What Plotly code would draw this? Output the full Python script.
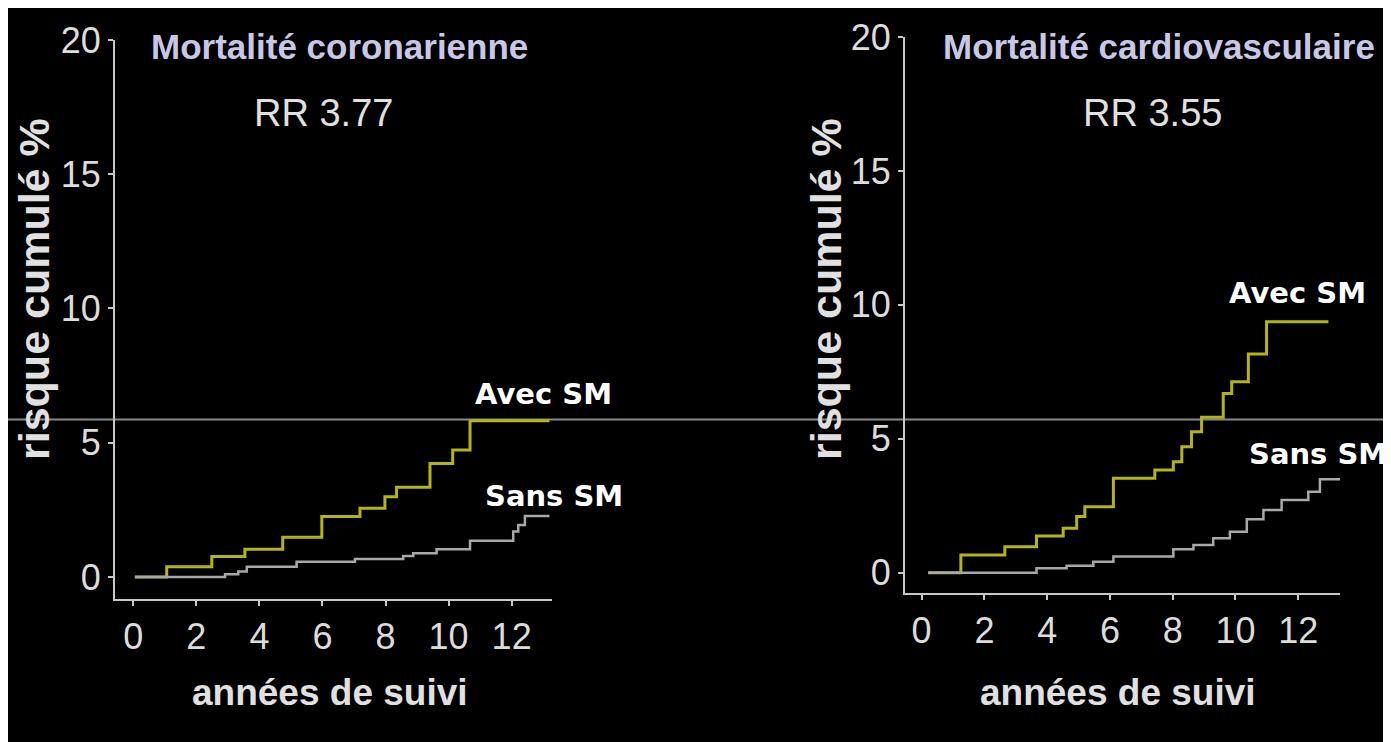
import plotly.graph_objects as go

# The page adds an 8px white body margin at top and left; the figure fills the rest.
W, H = 1383, 734
OFF = 8

# ---------------- data ----------------
# Left panel: Mortalité coronarienne
coro_avec_t = [0.05, 1.06, 2.49, 3.54, 4.74, 5.98, 7.19, 7.98, 8.35, 9.41, 10.13, 10.68, 13.2]
coro_avec_v = [0.0, 0.38, 0.76, 1.03, 1.48, 2.25, 2.56, 2.99, 3.34, 4.23, 4.73, 5.82, 5.82]
coro_sans_t = [0.05, 2.91, 3.33, 3.6, 5.18, 7.03, 8.56, 8.88, 9.62, 10.68, 12.05, 12.21, 12.42, 13.2]
coro_sans_v = [0.0, 0.1, 0.2, 0.38, 0.57, 0.67, 0.78, 0.88, 1.03, 1.35, 1.69, 1.94, 2.27, 2.27]

# Right panel: Mortalité cardiovasculaire
cv_avec_t = [0.21, 1.25, 2.65, 3.66, 4.51, 4.94, 5.2, 6.11, 7.43, 8.02, 8.29, 8.6, 8.92,
             9.61, 9.88, 10.41, 10.99, 12.96]
cv_avec_v = [0.0, 0.66, 0.97, 1.37, 1.66, 2.1, 2.46, 3.52, 3.83, 4.14, 4.7, 5.26, 5.8,
             6.69, 7.13, 8.16, 9.37, 9.37]
cv_sans_t = [0.21, 3.13, 3.66, 4.62, 5.47, 6.11, 8.02, 8.66, 9.29, 9.82, 10.36, 10.89,
             11.47, 12.32, 12.69, 13.38]
cv_sans_v = [0.0, 0.0, 0.16, 0.26, 0.41, 0.6, 0.87, 1.03, 1.28, 1.53, 1.99, 2.34,
             2.71, 3.02, 3.49, 3.49]

x_ticks = [0, 2, 4, 6, 8, 10, 12]
y_ticks = [0, 5, 10, 15, 20]
panel_titles = ["Mortalité coronarienne", "Mortalité cardiovasculaire"]
rr_labels = ["RR 3.77", "RR 3.55"]
series_names = ["Avec SM", "Sans SM"]
x_title = "années de suivi"
y_title = "risque cumulé %"
ref_level = 5.87  # horizontal grey reference line

# ---------------- styling ----------------
YELLOW = "#b4b418"
GREY = "#a8a8a8"
AXIS = "#c8c8c8"
TICKTXT = "#dcdcdc"
LAVENDER = "#c8c8e6"
SANS = "Liberation Sans, Arial, sans-serif"


def px(x):
    return (x - OFF) / W


def py(y):
    return 1 - (y - OFF) / H


fig = go.Figure()

fig.add_trace(go.Scatter(x=coro_avec_t, y=coro_avec_v, mode="lines", line_shape="hv",
                         line=dict(color=YELLOW, width=3), xaxis="x", yaxis="y",
                         name=series_names[0], showlegend=False))
fig.add_trace(go.Scatter(x=coro_sans_t, y=coro_sans_v, mode="lines", line_shape="hv",
                         line=dict(color=GREY, width=2.5), xaxis="x", yaxis="y",
                         name=series_names[1], showlegend=False))
fig.add_trace(go.Scatter(x=cv_avec_t, y=cv_avec_v, mode="lines", line_shape="hv",
                         line=dict(color=YELLOW, width=3), xaxis="x2", yaxis="y2",
                         name=series_names[0], showlegend=False))
fig.add_trace(go.Scatter(x=cv_sans_t, y=cv_sans_v, mode="lines", line_shape="hv",
                         line=dict(color=GREY, width=2.5), xaxis="x2", yaxis="y2",
                         name=series_names[1], showlegend=False))

axis_common = dict(showline=True, linewidth=2, linecolor=AXIS, ticks="outside",
                   ticklen=5, tickwidth=2, tickcolor=AXIS, showgrid=False,
                   zeroline=False, fixedrange=True, automargin=False,
                   tickfont=dict(family=SANS, size=36, color=TICKTXT))

fig.update_layout(
    width=W, height=H, autosize=False,
    margin=dict(l=0, r=0, t=0, b=0, pad=0, autoexpand=False),
    paper_bgcolor="black", plot_bgcolor="black",
    showlegend=False,
    xaxis=dict(axis_common, domain=[px(115), px(552)], range=[-0.58, 13.28],
               tickvals=x_ticks, anchor="y"),
    yaxis=dict(axis_common, domain=[py(599), py(40)], range=[-0.82, 20],
               tickvals=y_ticks, anchor="x"),
    xaxis2=dict(axis_common, domain=[px(905), px(1340)], range=[-0.53, 13.33],
                tickvals=x_ticks, anchor="y2"),
    yaxis2=dict(axis_common, domain=[py(593), py(37)], range=[-0.76, 20],
                tickvals=y_ticks, anchor="x2"),
)

shapes = [
    dict(type="line", xref="paper", yref="y", x0=0, x1=1, y0=ref_level, y1=ref_level,
         line=dict(color="#8a8a8a", width=2), layer="below"),
]
fig.update_layout(shapes=shapes)

ann = []
# panel titles
for text, cx in zip(panel_titles, [339, 1159]):
    ann.append(dict(text=text, x=px(cx), y=py(47), xref="paper", yref="paper",
                    showarrow=False, xanchor="center", yanchor="middle",
                    font=dict(family=SANS, size=35, color=LAVENDER, weight="bold")))
for text, cx in zip(rr_labels, [323, 1152]):
    ann.append(dict(text=text, x=px(cx), y=py(113), xref="paper", yref="paper",
                    showarrow=False, xanchor="center", yanchor="middle",
                    font=dict(family=SANS, size=38, color="#e0e0e0")))
# axis titles
for cx in [330, 1118]:
    ann.append(dict(text=x_title, x=px(cx), y=py(692), xref="paper", yref="paper",
                    showarrow=False, xanchor="center", yanchor="middle",
                    font=dict(family=SANS, size=37, color="#e0e0e0", weight="bold")))
for cx in [34, 826]:
    ann.append(dict(text=y_title, x=px(cx), y=py(289), xref="paper", yref="paper",
                    showarrow=False, xanchor="center", yanchor="middle", textangle=-90,
                    font=dict(family=SANS, size=43, color="#e0e0e0", weight="bold")))
# series labels
lab_pos = [(543, 394, series_names[0]), (554, 496, series_names[1]),
           (1297, 293, series_names[0]), (1318, 454, series_names[1])]
for cx, cy, text in lab_pos:
    ann.append(dict(text=text, x=px(cx), y=py(cy), xref="paper", yref="paper",
                    showarrow=False, xanchor="center", yanchor="middle",
                    font=dict(family="DejaVu Sans, sans-serif", size=29, color="white",
                              weight="bold")))
fig.update_layout(annotations=ann)

fig.write_html("out.html")
